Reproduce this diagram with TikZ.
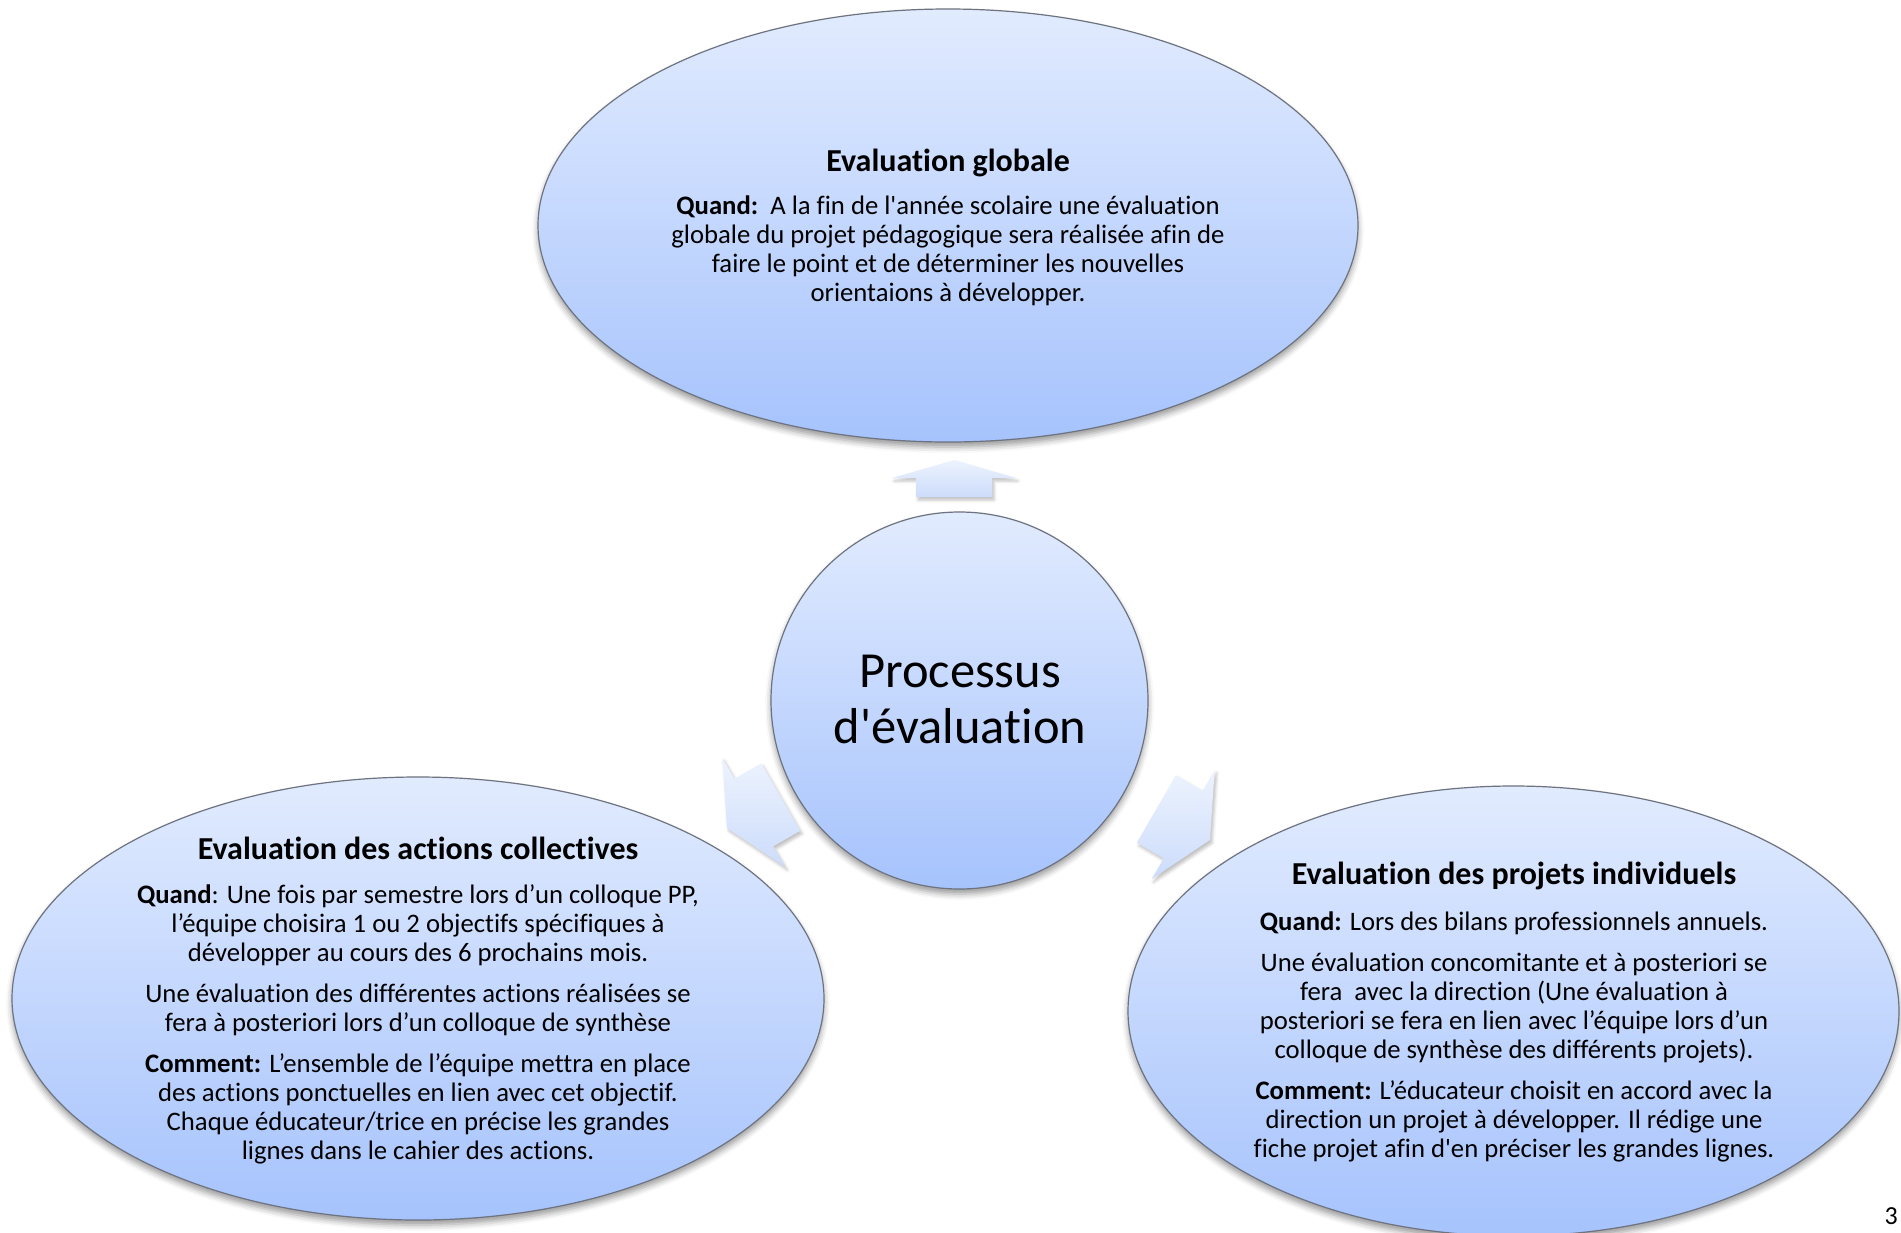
\documentclass[tikz,border=0pt]{standalone}
\usepackage{fontspec}
\setmainfont{Carlito}[Ligatures={TeXOff,NoCommon}]
\usetikzlibrary{shapes.geometric,shadows.blur}
\definecolor{gtop}{HTML}{E1EBFE}
\definecolor{gbot}{HTML}{A6C3FD}
\definecolor{edgec}{HTML}{6E7380}
\definecolor{atop}{HTML}{EDF3FE}
\definecolor{abot}{HTML}{CCDCFB}
\begin{document}
\begin{tikzpicture}[x=1pt,y=-1pt,
  bubble/.style={ellipse, draw=edgec, line width=1.2pt, top color=gtop, bottom color=gbot, inner sep=0pt,
    blur shadow={shadow xshift=0pt, shadow yshift=-5pt, shadow blur radius=6pt, shadow opacity=40}},
  ttl/.style={font=\fontsize{32}{36}\selectfont\bfseries, inner sep=0pt},
  body/.style={font=\fontsize{26.7}{29}\selectfont, align=center, inner sep=0pt},
  arrowsty/.style={top color=atop, bottom color=abot, draw=none,
    blur shadow={shadow xshift=2pt, shadow yshift=-3pt, shadow blur radius=3pt, shadow opacity=25}},
  toparrow/.pic={\path[arrowsty] (0,0) -- (-62,18) -- (-38,18) -- (-38,37) -- (38,37) -- (38,18) -- (62,18) -- cycle;},
  sidearrow/.pic={\path[arrowsty] (0,0) -- (-63,31) -- (-39,31) -- (-39,62) -- (39,62) -- (39,31) -- (63,31) -- cycle;}
]
\useasboundingbox (0,0) rectangle (1901,1232);

% arrows
\pic at (954,460) {toparrow};
\pic[rotate=120] at (727,828) {sidearrow};
\pic[rotate=-120] at (1210,840) {sidearrow};

% shapes
\node[bubble, minimum width=820pt, minimum height=433pt] (glob) at (948,225.5) {};
\node[bubble, circle, minimum size=377pt] (proc) at (959.5,700.5) {};
\node[bubble, minimum width=812pt, minimum height=443pt] (coll) at (418,998.5) {};
\node[bubble, minimum width=771pt, minimum height=450pt] (indiv) at (1513.5,1011) {};

% texts
\node[ttl] (globT) at (948,162.5) {Evaluation globale};
\node[body] (globB) at (948,251) {\textbf{Quand:}\ \ A la fin de l'année scolaire une évaluation\\globale du projet pédagogique sera réalisée afin de\\faire le point et de déterminer les nouvelles\\orientaions à développer.};

\node[font=\fontsize{50.5}{56}\selectfont, align=center, inner sep=0pt] (procT) at (960,699) {Processus\\d'évaluation};

\node[ttl] (collT) at (418,848) {Evaluation des actions collectives};
\node[body] (collB) at (418,1024.5) {\textbf{Quand}: Une fois par semestre lors d’un colloque PP,\\l’équipe choisira 1 ou 2 objectifs spécifiques à\\développer au cours des 6 prochains mois.\\[12pt]Une évaluation des différentes actions réalisées se\\fera à posteriori lors d’un colloque de synthèse\\[12pt]\textbf{Comment:} L’ensemble de l’équipe mettra en place\\des actions ponctuelles en lien avec cet objectif.\\Chaque éducateur/trice en précise les grandes\\lignes dans le cahier des actions.};

\node[ttl] (indivT) at (1514,876) {Evaluation des projets individuels};
\node[body] (indivB) at (1514,1036.5) {\textbf{Quand:} Lors des bilans professionnels annuels.\\[12pt]Une évaluation concomitante et à posteriori se\\fera\ \ avec la direction (Une évaluation à\\posteriori se fera en lien avec l’équipe lors d’un\\colloque de synthèse des différents projets).\\[12pt]\textbf{Comment:} L’éducateur choisit en accord avec la\\direction un projet à développer. Il rédige une\\fiche projet afin d'en préciser les grandes lignes.};

\node[font=\fontsize{26}{30}\selectfont, inner sep=0pt, anchor=east] (pnum) at (1898,1216) {3};
\end{tikzpicture}
\end{document}
